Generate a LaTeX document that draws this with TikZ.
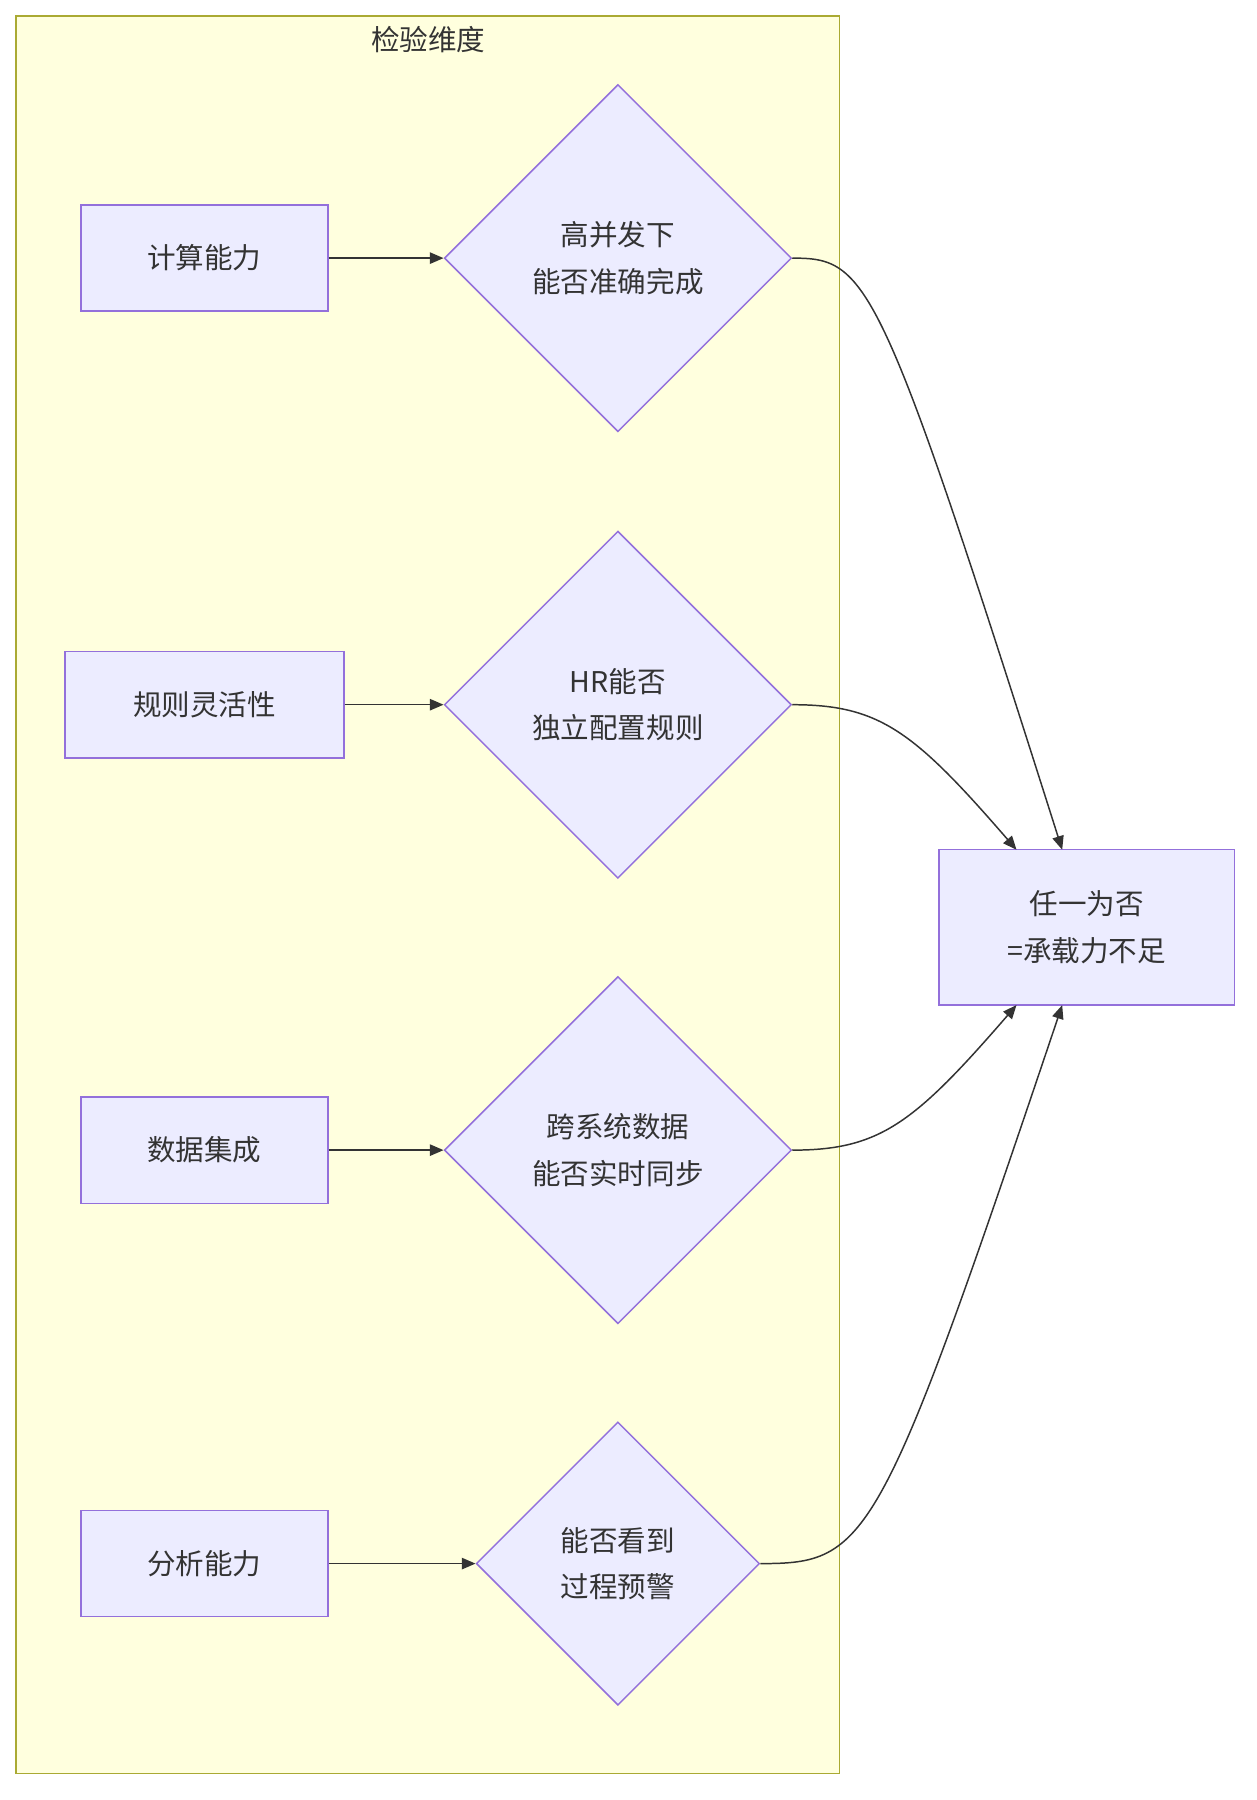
\documentclass[tikz,border=0pt]{standalone}
\usepackage{fontspec}
\setmainfont{Noto Sans CJK SC}
\usetikzlibrary{shapes.geometric,arrows.meta}
\begin{document}
\begin{tikzpicture}[x=1pt,y=-1pt,
  box/.style={draw=violet!60!blue!70,fill=bx,line width=1.3pt,inner sep=0},
  dia/.style={diamond,draw=violet!60!blue!70,fill=bx,line width=1.3pt,inner sep=0,aspect=1,align=center},
  txt/.style={font=\fontsize{25}{41}\selectfont,text=black!80},
  arr/.style={-{Triangle[length=12pt,width=10pt]},line width=1.3pt,draw=black!80}]
\definecolor{bx}{HTML}{ECECFF}
\definecolor{cl}{HTML}{FFFFDE}
\definecolor{cs}{HTML}{AAAA33}
\tikzset{box/.append style={draw={rgb,255:red,147;green,112;blue,219}},dia/.append style={draw={rgb,255:red,147;green,112;blue,219}}}
\useasboundingbox (0,0) rectangle (1100,1576);
\fill[white] (0,0) rectangle (1100,1576);
\draw[fill=cl,draw=cs,line width=1.3pt] (14,14) rectangle (735,1553);
\node[txt] (title) at (375,35) {检验维度};
\node[box,txt,minimum width=216,minimum height=93] (A) at (179,226) {计算能力};
\node[box,txt,minimum width=244,minimum height=93] (B) at (179,617) {规则灵活性};
\node[box,txt,minimum width=216,minimum height=93] (C) at (179,1007) {数据集成};
\node[box,txt,minimum width=216,minimum height=93] (D) at (179,1369) {分析能力};
\node[dia,txt,minimum width=304,minimum height=304] (D1) at (541,226) {高并发下\\能否准确完成};
\node[dia,txt,minimum width=304,minimum height=304] (D2) at (541,617) {HR能否\\独立配置规则};
\node[dia,txt,minimum width=304,minimum height=304] (D3) at (541,1007) {跨系统数据\\能否实时同步};
\node[dia,txt,minimum width=248,minimum height=248] (D4) at (541,1369) {能否看到\\过程预警};
\node[box,txt,minimum width=259,minimum height=136,align=center] (R) at (951.5,812) {任一为否\\=承载力不足};
\coordinate (R1) at (930,744);
\coordinate (R2) at (890,744);
\coordinate (R3) at (890,880);
\coordinate (R4) at (930,880);
\draw[arr] (A) -- (D1);
\draw[arr] (B) -- (D2);
\draw[arr] (C) -- (D3);
\draw[arr] (D) -- (D4);
\draw[arr] (D1.east) .. controls (760,226) and (770,240) .. (R1);
\draw[arr] (D2.east) .. controls (770,617) and (800,640) .. (R2);
\draw[arr] (D3.east) .. controls (770,1007) and (800,984) .. (R3);
\draw[arr] (D4.east) .. controls (760,1369) and (770,1355) .. (R4);
\end{tikzpicture}
\end{document}
